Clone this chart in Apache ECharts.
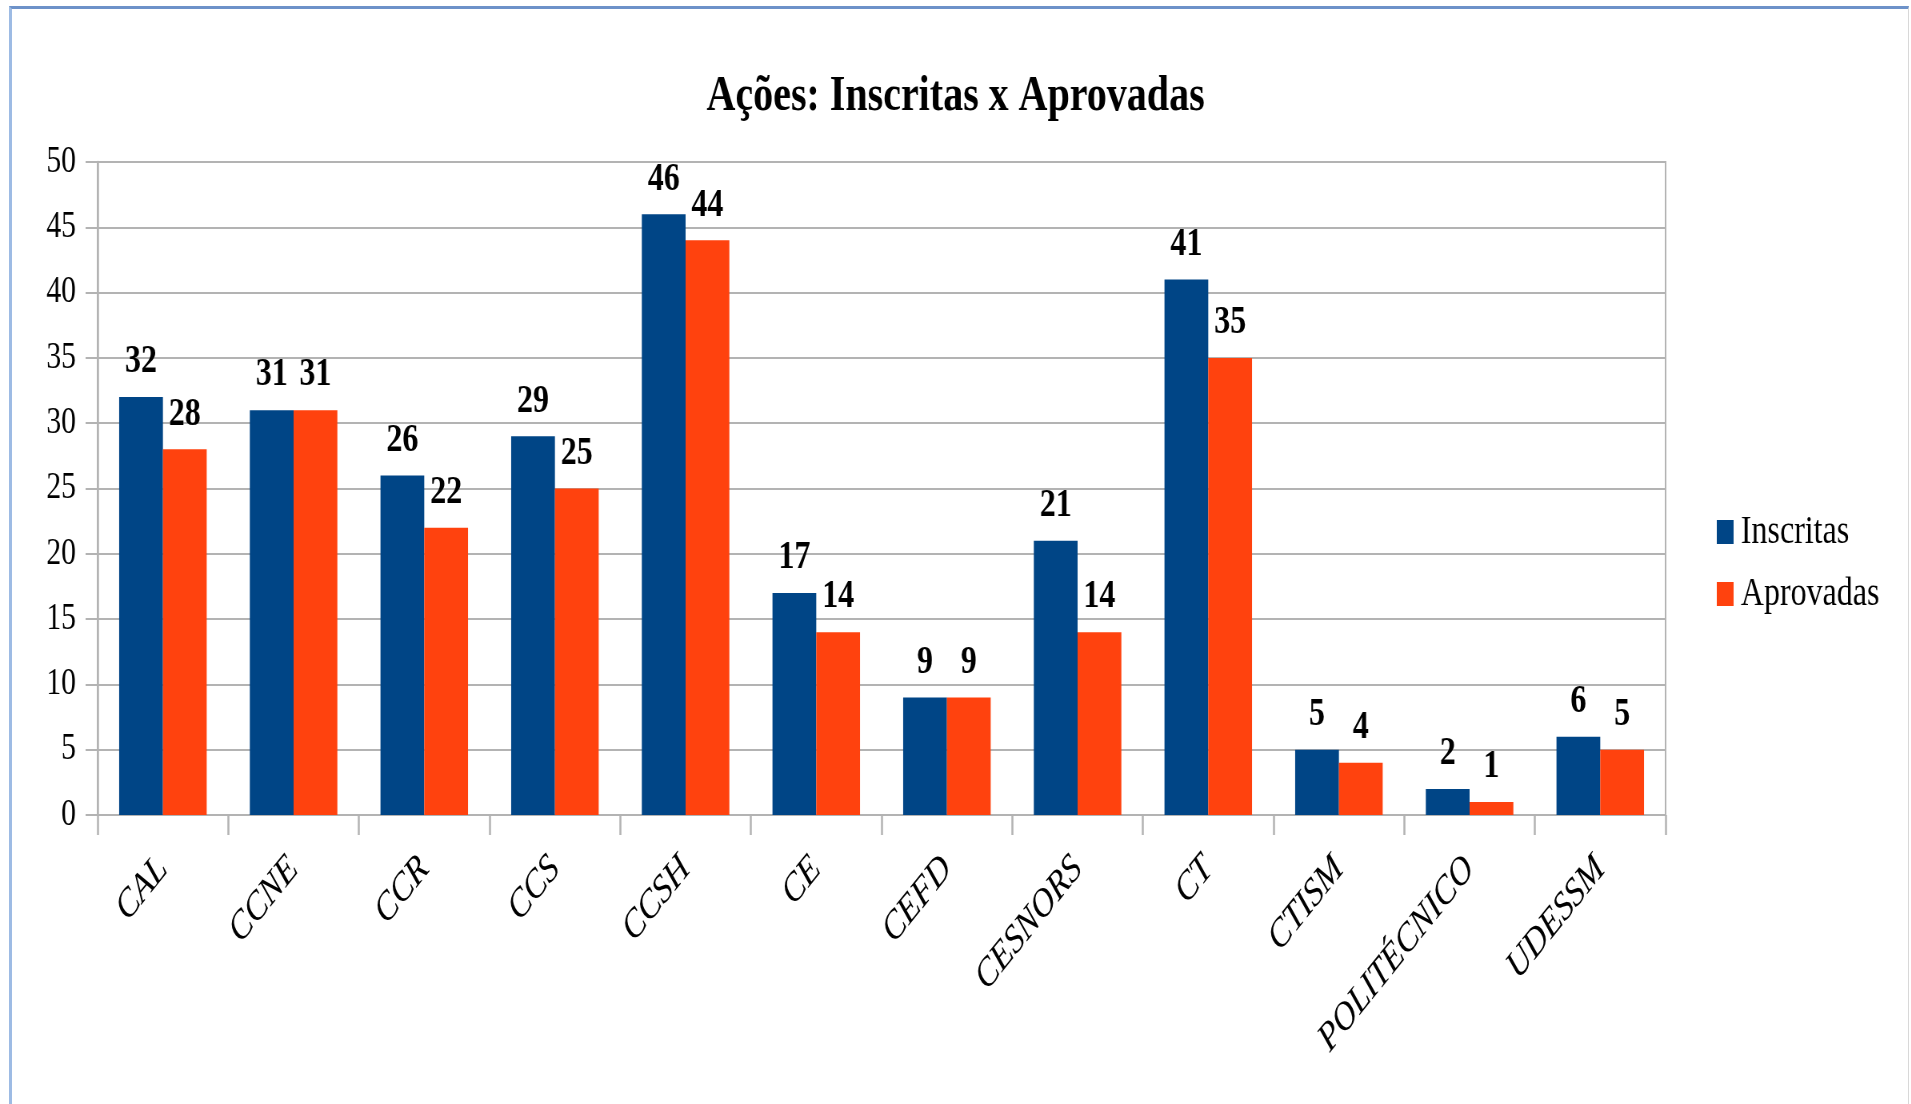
<!DOCTYPE html>
<html>
<head>
<meta charset="utf-8">
<title>Ações: Inscritas x Aprovadas</title>
<script src="https://cdn.jsdelivr.net/npm/echarts@6/dist/echarts.min.js"></script>
<style>
  html, body { margin: 0; padding: 0; background: #fff; overflow: hidden; }
  #frame {
    position: absolute; left: 9px; top: 6px; width: 1900px; height: 1098px;
    border-left: 3px solid #9dbbe4; border-top: 3px solid #6d92c9;
    border-right: 1px solid #d8d8d8; box-sizing: border-box;
  }
  /* the original picture is squeezed sideways: draw wider, then condense */
  #chart {
    position: absolute; left: 0; top: 0; width: 2389px; height: 1104px;
    transform: scaleX(0.8); transform-origin: 0 0;
  }
</style>
</head>
<body>
<div id="frame"></div>
<div id="chart"></div>
<script>
var myChart = echarts.init(document.getElementById('chart'));

// centros e quantidade de ações
var centros = ['CAL', 'CCNE', 'CCR', 'CCS', 'CCSH', 'CE', 'CEFD', 'CESNORS', 'CT', 'CTISM', 'POLITÉCNICO', 'UDESSM'];
var inscritas = [32, 31, 26, 29, 46, 17, 9, 21, 41, 5, 2, 6];
var aprovadas = [28, 31, 22, 25, 44, 14, 9, 14, 35, 4, 1, 5];
var yTicks = { min: 0, max: 50, interval: 5 };

var serif = '"Liberation Serif", "Times New Roman", serif';
var gridColor = '#b3b3b3';

var valueLabel = {
    show: true,
    position: 'top',
    distance: 15,
    fontFamily: serif,
    fontWeight: 'bold',
    fontSize: 40,
    color: '#000'
};

var option = {
    backgroundColor: 'transparent',
    animation: false,
    title: {
        text: 'Ações: Inscritas x Aprovadas',
        left: 'center',
        top: 67,
        textStyle: {
            fontFamily: serif,
            fontWeight: 'bold',
            fontSize: 50,
            color: '#000'
        }
    },
    legend: {
        orient: 'vertical',
        left: 2141,
        top: 507,
        itemWidth: 21,
        itemHeight: 24,
        itemGap: 22,
        icon: 'rect',
        textStyle: {
            fontFamily: serif,
            fontSize: 40,
            color: '#000',
            padding: [0, 0, 0, 4]
        },
        data: ['Inscritas', 'Aprovadas']
    },
    grid: {
        left: 122,
        right: 307,
        top: 162,
        bottom: 289,
        show: true,
        borderColor: gridColor,
        borderWidth: 2
    },
    xAxis: {
        type: 'category',
        data: centros,
        axisLine: { lineStyle: { color: gridColor, width: 2 } },
        axisTick: { show: true, length: 20, lineStyle: { color: gridColor, width: 2.5 } },
        axisLabel: {
            rotate: 45,
            margin: 48,
            fontFamily: serif,
            fontStyle: 'italic',
            fontSize: 40,
            color: '#000'
        }
    },
    yAxis: {
        type: 'value',
        min: yTicks.min,
        max: yTicks.max,
        interval: yTicks.interval,
        axisLine: { show: true, lineStyle: { color: gridColor, width: 2.5 } },
        axisTick: { show: true, length: 15, lineStyle: { color: gridColor, width: 2 } },
        splitLine: { lineStyle: { color: gridColor, width: 2 } },
        axisLabel: {
            margin: 27,
            fontFamily: serif,
            fontSize: 37,
            color: '#000'
        }
    },
    series: [{
        name: 'Inscritas',
        type: 'bar',
        data: inscritas,
        barGap: '0%',
        barCategoryGap: '33%',
        itemStyle: { color: '#004586' },
        label: valueLabel
    }, {
        name: 'Aprovadas',
        type: 'bar',
        data: aprovadas,
        barGap: '0%',
        barCategoryGap: '33%',
        itemStyle: { color: '#ff420e' },
        label: valueLabel
    }]
};

myChart.setOption(option);
</script>
</body>
</html>
